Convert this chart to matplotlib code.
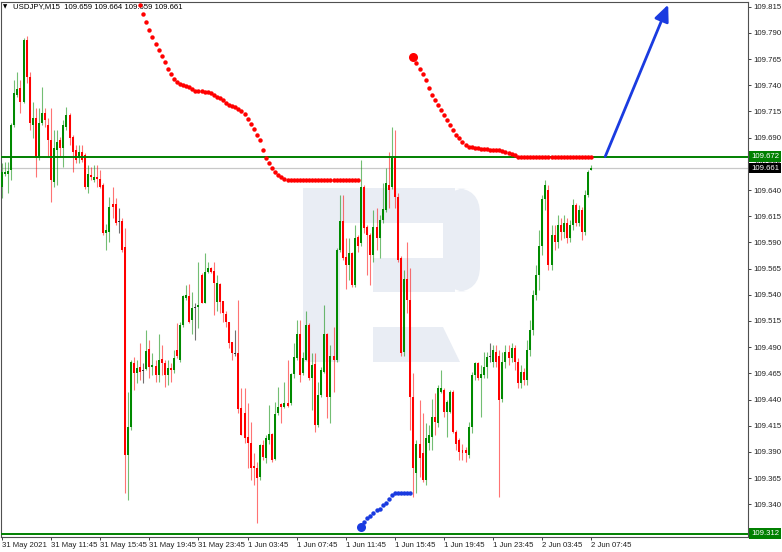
import numpy as np
import matplotlib
matplotlib.use("Agg")
import matplotlib.pyplot as plt
from matplotlib import transforms
from matplotlib.patches import Rectangle, Polygon, FancyBboxPatch

plt.rcParams['font.family'] = ['Liberation Sans', 'DejaVu Sans']

# USDJPY M15 quotes, stored in points: price = 109.000 + value / 1000
BASE = 109.0
opens_pts = [
    643, 655, 655, 659, 702, 731, 737, 724, 783, 748,
    702, 709, 671, 704, 714, 702, 688, 648, 678, 688,
    680, 700, 712, 691, 678, 671, 676, 673, 643, 654,
    650, 652, 651, 645, 599, 600, 627, 627, 610, 610,
    586, 387, 414, 475, 465, 471, 468, 469, 488, 471,
    472, 463, 479, 475, 463, 470, 468, 487, 478, 511,
    537, 539, 516, 528, 528, 559, 532, 562, 566, 563,
    533, 550, 534, 522, 514, 495, 484, 484, 432, 427,
    404, 399, 377, 375, 366, 397, 384, 401, 407, 383,
    427, 436, 433, 437, 437, 464, 480, 503, 465, 478,
    511, 461, 474, 416, 444, 466, 503, 442, 482, 478,
    583, 610, 576, 568, 580, 549, 595, 589, 643, 605,
    597, 578, 605, 594, 611, 621, 645, 643, 671, 633,
    575, 485, 555, 535, 442, 370, 398, 389, 363, 399,
    404, 423, 418, 447, 449, 428, 428, 447, 409, 401,
    392, 392, 387, 414, 463, 475, 461, 463, 471, 481,
    476, 485, 482, 441, 476, 485, 480, 489, 476, 456,
    466, 459, 487, 506, 540, 559, 587, 631, 640, 568,
    597, 590, 607, 600, 609, 594, 607, 626, 609, 621,
    600, 635, 659,
]
highs_pts = [
    666, 667, 667, 704, 745, 753, 745, 785, 787, 753,
    724, 718, 718, 738, 718, 709, 718, 697, 697, 691,
    707, 719, 714, 693, 683, 683, 683, 675, 664, 662,
    664, 664, 659, 647, 608, 633, 643, 632, 623, 613,
    604, 447, 478, 481, 478, 494, 475, 506, 497, 484,
    478, 503, 492, 478, 478, 475, 487, 513, 514, 540,
    549, 550, 543, 532, 571, 561, 580, 571, 567, 571,
    559, 551, 534, 525, 514, 495, 506, 535, 451, 451,
    437, 419, 389, 380, 398, 401, 406, 435, 408, 438,
    452, 437, 457, 478, 465, 494, 516, 516, 485, 525,
    513, 484, 484, 457, 471, 530, 504, 492, 509, 585,
    635, 635, 594, 594, 581, 607, 597, 669, 645, 607,
    599, 621, 623, 616, 647, 661, 676, 700, 697, 637,
    577, 564, 590, 566, 465, 401, 440, 427, 418, 416,
    441, 446, 454, 468, 451, 440, 449, 449, 411, 403,
    398, 395, 419, 466, 476, 476, 473, 485, 485, 494,
    492, 492, 487, 485, 492, 492, 494, 492, 480, 473,
    470, 497, 516, 545, 568, 602, 635, 650, 645, 607,
    607, 616, 613, 616, 613, 611, 631, 628, 626, 624,
    640, 659, 664,
]
lows_pts = [
    632, 653, 637, 650, 700, 729, 714, 723, 742, 697,
    690, 652, 669, 702, 700, 672, 629, 643, 645, 672,
    662, 697, 683, 657, 666, 666, 667, 641, 637, 650,
    648, 643, 642, 597, 583, 590, 613, 607, 599, 581,
    351, 344, 411, 449, 456, 459, 456, 468, 461, 463,
    457, 457, 463, 452, 454, 457, 465, 480, 476, 509,
    535, 513, 503, 497, 508, 532, 532, 561, 561, 521,
    525, 523, 514, 509, 489, 478, 482, 427, 406, 399,
    375, 363, 358, 322, 363, 382, 379, 398, 380, 382,
    425, 418, 432, 433, 435, 461, 478, 457, 463, 478,
    459, 430, 409, 414, 442, 465, 422, 418, 447, 476,
    581, 573, 546, 554, 547, 547, 581, 587, 599, 559,
    549, 571, 583, 575, 609, 619, 623, 641, 623, 571,
    482, 482, 523, 411, 347, 351, 366, 361, 358, 392,
    392, 406, 414, 446, 423, 404, 427, 408, 392, 382,
    382, 380, 384, 408, 459, 459, 423, 461, 461, 476,
    471, 471, 347, 438, 470, 473, 476, 468, 451, 451,
    454, 454, 482, 502, 535, 545, 578, 621, 564, 564,
    583, 585, 592, 594, 589, 590, 602, 606, 606, 592,
    597, 633, 659,
]
closes_pts = [
    657, 657, 658, 702, 733, 736, 724, 783, 748, 704,
    709, 672, 704, 714, 707, 688, 650, 680, 686, 680,
    702, 712, 690, 676, 669, 676, 669, 643, 655, 652,
    652, 651, 643, 599, 602, 624, 624, 609, 610, 583,
    387, 414, 476, 465, 470, 466, 468, 486, 471, 473,
    463, 478, 475, 463, 470, 468, 480, 482, 511, 539,
    540, 514, 527, 528, 530, 532, 562, 566, 562, 551,
    551, 533, 523, 514, 494, 484, 484, 431, 406, 403,
    399, 375, 375, 365, 397, 385, 403, 407, 382, 426,
    433, 433, 437, 434, 464, 481, 503, 463, 480, 511,
    461, 473, 416, 444, 468, 503, 442, 482, 478, 583,
    610, 575, 568, 580, 549, 594, 587, 643, 604, 597,
    578, 605, 594, 611, 622, 647, 640, 671, 633, 573,
    484, 555, 535, 442, 375, 398, 384, 363, 403, 406,
    423, 419, 451, 451, 428, 438, 447, 409, 398, 390,
    389, 389, 414, 463, 475, 461, 464, 471, 481, 481,
    487, 476, 440, 476, 485, 480, 489, 476, 456, 466,
    459, 487, 506, 540, 559, 587, 631, 645, 568, 597,
    590, 607, 600, 609, 594, 607, 626, 609, 621, 600,
    635, 657, 661,
]

# Parabolic SAR dots (points), each run starts at the given bar
sar_down1_start = 45
sar_down1_pts = [
    817, 808, 800, 793, 786, 779, 774, 768, 762, 756, 751, 746, 743, 741,
    740, 739, 738, 736, 735, 735, 735, 734, 734, 733, 731, 729, 728, 726,
    723, 721, 720, 719, 717, 715, 713, 708, 703, 698, 693, 688, 678, 671,
    666, 661, 657, 654, 652, 651, 650, 650, 650, 650, 650, 650, 650, 650,
    650, 650, 650, 650, 650, 650, 650, 650, 650, 650, 650, 650, 650, 650,
    650, 650,
]
sar_up_start = 117
sar_up_pts = [318, 323, 327, 329, 332, 335, 336, 339, 341, 345, 349, 351,
              351, 351, 351, 351, 351]
sar_down2_start = 134
sar_down2_pts = [
    767, 761, 756, 751, 745, 737, 731, 726, 721, 716, 712, 707, 702, 697,
    693, 690, 686, 683, 681, 681, 680, 680, 679, 679, 679, 678, 678, 678,
    678, 677, 676, 675, 674, 673, 672, 672, 672, 672, 672, 672, 672, 672,
    672, 672, 672, 672, 672, 672, 672, 672, 672, 672, 672, 672, 672, 672,
    672, 672, 672,
]

level_price = 109.672      # green horizontal level
bid_price = 109.661        # current price line
low_level_price = 109.312  # lower green level
arrow_from = (196.5, 109.672)
arrow_to = (217.0, 109.817)

x_tick_bars = [0, 16, 32, 48, 64, 80, 96, 112, 128, 144, 160, 176, 192]
x_tick_labels = ['31 May 2021', '31 May 11:45', '31 May 15:45', '31 May 19:45',
                 '31 May 23:45', '1 Jun 03:45', '1 Jun 07:45', '1 Jun 11:45',
                 '1 Jun 15:45', '1 Jun 19:45', '1 Jun 23:45', '2 Jun 03:45',
                 '2 Jun 07:45']
header = 'USDJPY,M15  109.659 109.664 109.659 109.661'

GREEN = '#008a00'
RED = '#ff0000'
LINE_GREEN = '#008000'
BLUE = '#1a3be0'
LOGO = '#e9edf4'
FS = 5.6

def to_price(pts):
    return BASE + np.asarray(pts, dtype=float) / 1000.0

o = to_price(opens_pts)
h = to_price(highs_pts)
l = to_price(lows_pts)
c = to_price(closes_pts)
h = np.maximum(h, np.maximum(o, c))
l = np.minimum(l, np.minimum(o, c))
x = np.arange(len(o))

W, H = 782, 552
fig = plt.figure(figsize=(W / 100, H / 100), dpi=100)

# watermark logo behind the chart (pixel coordinates)
bg = fig.add_axes([0, 0, 1, 1])
bg.set_xlim(0, W)
bg.set_ylim(H, 0)
bg.axis('off')
bg.add_patch(Rectangle((303, 188), 37, 174, fc=LOGO, ec='none'))
bg.add_patch(Rectangle((303, 188), 152, 35, fc=LOGO, ec='none'))
bg.add_patch(FancyBboxPatch((443, 188), 37, 104,
                            boxstyle='round,pad=0,rounding_size=26',
                            fc=LOGO, ec='none'))
bg.add_patch(Rectangle((373, 258), 82, 34, fc=LOGO, ec='none'))
bg.add_patch(Polygon([(373, 327), (443, 327), (460, 362), (373, 362)],
                     closed=True, fc=LOGO, ec='none'))

ax = fig.add_axes([1 / W, 15 / H, 747 / W, 535 / H])
ax.set_facecolor('none')
ax.set_xlim(-0.33, 243.0)
ax.set_ylim(109.3088, 109.8195)

up = c > o
down = c < o
flat = c == o

ax.vlines(x[up], l[up], h[up], color=GREEN, lw=0.8, alpha=0.55, zorder=2)
ax.vlines(x[down], l[down], h[down], color=RED, lw=0.8, alpha=0.55, zorder=2)
ax.vlines(x[flat], l[flat], h[flat], color='#333333', lw=0.8, alpha=0.7, zorder=2)
ax.bar(x[up], c[up] - o[up], bottom=o[up], width=0.65, color=GREEN, lw=0, zorder=3)
ax.bar(x[down], o[down] - c[down], bottom=c[down], width=0.65, color=RED, lw=0, zorder=3)
ax.bar(x[flat], 0.0009, bottom=o[flat] - 0.00045, width=0.65, color='#333333', lw=0, zorder=3)

# horizontal levels
ax.axhline(level_price, color=LINE_GREEN, lw=1.4, zorder=4)
ax.axhline(bid_price, color='#c8c8c8', lw=0.9, zorder=1)
ax.axhline(low_level_price, color=LINE_GREEN, lw=1.4, zorder=4)

# SAR dots
for start, pts, col in [(sar_down1_start, sar_down1_pts, RED),
                        (sar_up_start, sar_up_pts, BLUE),
                        (sar_down2_start, sar_down2_pts, RED)]:
    sx = np.arange(start, start + len(pts))
    sy = to_price(pts)
    ax.plot(sx, sy, 'o', ms=3.2, color=col, mec='none', zorder=5)
ax.plot([sar_up_start], to_price(sar_up_pts[:1]), 'o', ms=6.5, color=BLUE,
        mec='none', zorder=5, clip_on=False)
ax.plot([sar_down2_start], to_price(sar_down2_pts[:1]), 'o', ms=6.5,
        color=RED, mec='none', zorder=5)

# forecast arrow
ax.annotate('', xy=arrow_to, xytext=arrow_from,
            arrowprops=dict(arrowstyle='-|>,head_length=0.9,head_width=0.4',
                            color=BLUE, lw=2.0, shrinkA=0, shrinkB=0,
                            mutation_scale=11), zorder=6)

# axes styling
for s in ax.spines.values():
    s.set_color('#505050')
    s.set_linewidth(0.8)
ax.yaxis.tick_right()
y_ticks = np.arange(109.315, 109.8151, 0.025)
ax.set_yticks(y_ticks)
ax.set_yticklabels([f'{v:.3f}' for v in y_ticks])
ax.tick_params(axis='y', length=2.5, width=0.6, pad=1.2, labelsize=FS,
               colors='#222222')
ax.set_xticks(x_tick_bars)
ax.set_xticklabels(x_tick_labels)
ax.tick_params(axis='x', length=2.5, width=0.6, pad=1.2, labelsize=FS,
               colors='#222222')
for lab in ax.get_xticklabels():
    lab.set_horizontalalignment('left')

# price labels on the right scale
tr = transforms.blended_transform_factory(ax.transAxes, ax.transData)
for price, fc in [(level_price, LINE_GREEN), (bid_price, '#000000'),
                  (low_level_price, LINE_GREEN)]:
    ax.text(1.0 + 3 / 747, price, f'{price:.3f}', transform=tr, ha='left',
            va='center', color='white', fontsize=FS, clip_on=False, zorder=10,
            bbox=dict(boxstyle='square,pad=0.22', fc=fc, ec='none'))

# header
ax.text(13 / W, 1 - 7 / H, header, transform=fig.transFigure, fontsize=FS,
        ha='left', va='center', color='black', zorder=1)
ax.text(3 / W, 1 - 7 / H, '\u25bc', transform=fig.transFigure, fontsize=4,
        family='DejaVu Sans', ha='left', va='center', color='black', zorder=1)

fig.savefig('out.png', dpi=100)
